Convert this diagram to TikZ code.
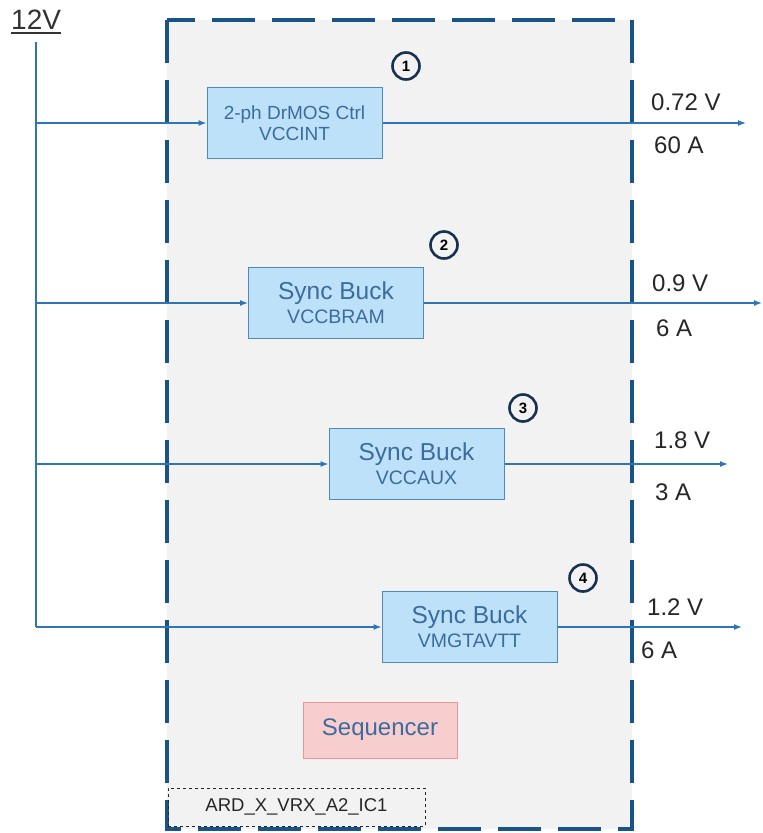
\documentclass[tikz,border=0pt]{standalone}
\usepackage{fontspec}
\setmainfont{Liberation Sans}
\usetikzlibrary{arrows.meta, positioning, calc}
\definecolor{railblue}{RGB}{46, 117, 182}
\definecolor{framenavy}{RGB}{24, 84, 134}
\definecolor{convfill}{RGB}{190, 225, 250}
\definecolor{convtext}{RGB}{58, 108, 158}
\definecolor{seqfill}{RGB}{248, 205, 205}
\definecolor{seqdraw}{RGB}{232, 150, 150}
\definecolor{tagnavy}{RGB}{22, 50, 80}

\begin{document}
\begin{tikzpicture}[x=1pt, y=-1pt,
                frame/.style={
                    draw=framenavy,
                    fill=black!5,
                    line width=4.5pt,
                    dash pattern=on 43pt off 17pt
                },
                conv/.style={
                    rectangle,
                    fill=convfill,
                    draw=railblue!85,
                    line width=1pt,
                    minimum width=175pt,
                    minimum height=71pt,
                    inner sep=0pt,
                    align=center,
                    text=convtext
                },
                tag/.style={
                    circle,
                    draw=tagnavy,
                    line width=2.6pt,
                    minimum size=27pt,
                    inner sep=0pt,
                    font=\fontsize{15}{15}\selectfont\bfseries
                },
                rating/.style={
                    anchor=west,
                    inner sep=0pt,
                    text=black!85,
                    font=\fontsize{24}{24}\selectfont
                },
                feed/.style={
                    draw=railblue,
                    line width=1.4pt,
                    -{Latex[length=8pt, width=6pt]}
                }
            ]
                \fill[white] (0,0) rectangle (762,833);
                \draw[frame] (167,20) rectangle (632,829);

                \node[anchor=base west, inner sep=0pt, text=black!80, font=\fontsize{28}{28}\selectfont] (supply) at (11,29) {12V};
                \draw[line width=2pt, black!80] ([yshift=-4pt]supply.base west) -- ([yshift=-4pt]supply.base east);
                \coordinate (top) at (36,42);

                \node[conv] (c1) at (294.5,123) {{\fontsize{19}{24}\selectfont 2-ph DrMOS Ctrl}\\[3pt]{\fontsize{19}{22}\selectfont VCCINT}};
                \node[conv] (c2) at (336,303) {{\fontsize{24.5}{26}\selectfont Sync Buck}\\[4pt]{\fontsize{19.5}{22}\selectfont VCCBRAM}};
                \node[conv] (c3) at (416.5,464) {{\fontsize{24.5}{26}\selectfont Sync Buck}\\[4pt]{\fontsize{19.5}{22}\selectfont VCCAUX}};
                \node[conv] (c4) at (469.5,627) {{\fontsize{24.5}{26}\selectfont Sync Buck}\\[4pt]{\fontsize{19.5}{22}\selectfont VMGTAVTT}};

                \node[tag] (t1) at (406,66) {1};
                \node[tag] (t2) at (444,245) {2};
                \node[tag] (t3) at (523,408) {3};
                \node[tag] (t4) at (583,578) {4};

                \coordinate (j1) at (top |- c1.west);
                \coordinate (j2) at (top |- c2.west);
                \coordinate (j3) at (top |- c3.west);
                \coordinate (j4) at (top |- c4.west);
                \coordinate (o1) at (746,0 |- c1.east);
                \coordinate (o2) at (762,0 |- c2.east);
                \coordinate (o3) at (728,0 |- c3.east);
                \coordinate (o4) at (742,0 |- c4.east);

                \draw[draw=railblue, line width=1.4pt] (top) -- (j4);
                \foreach \i in {1,...,4} {
                    \draw[feed] (j\i) -- (c\i.west);
                    \draw[feed] (c\i.east) -- (o\i);
                }

                \node[rating] (v1) at (651,102) {0.72 V};
                \node[rating] (a1) at (654,145) {60 A};
                \node[rating] (v2) at (652,283) {0.9 V};
                \node[rating] (a2) at (656,328) {6 A};
                \node[rating] (v3) at (654,440) {1.8 V};
                \node[rating] (a3) at (655,492) {3 A};
                \node[rating] (v4) at (647,607) {1.2 V};
                \node[rating] (a4) at (641,650) {6 A};

                \node[rectangle, fill=seqfill, draw=seqdraw, line width=1pt, minimum width=154pt, minimum height=56pt, text=convtext, font=\fontsize{24}{24}\selectfont] (seq) at (380,730) {Sequencer};
                \node[rectangle, draw=black!85, dashed, line width=1pt, minimum width=257pt, minimum height=38pt, text=black!85, font=\fontsize{18.5}{18.5}\selectfont] (ref) at (296.5,807) {ARD\_X\_VRX\_A2\_IC1};
            \end{tikzpicture}
\end{document}
